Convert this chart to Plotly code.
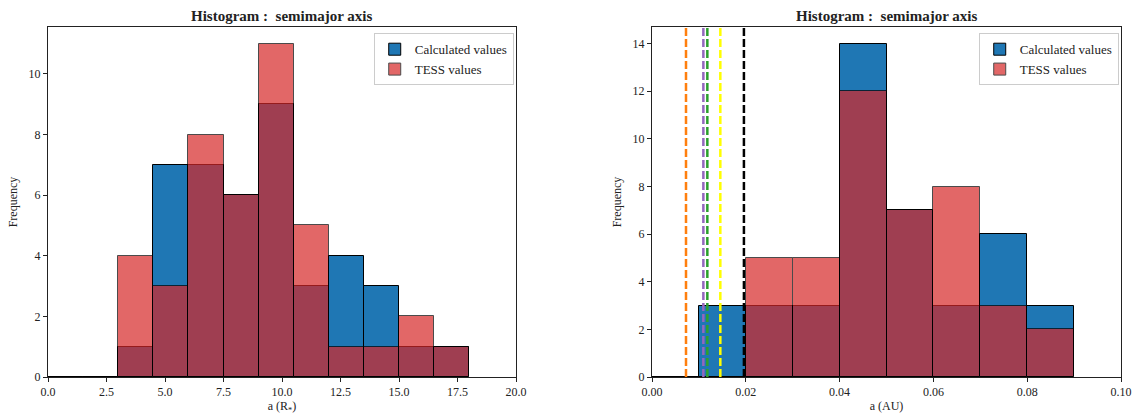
import plotly.graph_objects as go

# ---------------- data ----------------
left_edges = [0.0, 1.5, 3.0, 4.5, 6.0, 7.5, 9.0, 10.5, 12.0, 13.5, 15.0, 16.5, 18.0]
left_calc = [0, 0, 1, 7, 7, 6, 9, 3, 4, 3, 1, 1]
left_tess = [0, 0, 4, 3, 8, 6, 11, 5, 1, 1, 2, 1]

right_edges = [0.00, 0.01, 0.02, 0.03, 0.04, 0.05, 0.06, 0.07, 0.08, 0.09]
right_calc = [0, 3, 3, 3, 14, 7, 3, 6, 3]
right_tess = [0, 0, 5, 5, 12, 7, 8, 3, 2]

vline_x = [0.00725, 0.01095, 0.0118, 0.01457, 0.0196]
vline_colors = ["#ff7f0e", "#9467bd", "#2ca02c", "#ffff00", "#000000"]

left_xticks = [0.0, 2.5, 5.0, 7.5, 10.0, 12.5, 15.0, 17.5, 20.0]
right_xticks = [0.00, 0.02, 0.04, 0.06, 0.08, 0.10]

FONT = "Liberation Serif"
BLUE = "#1f77b4"
RED = "#d62728"


def centers(edges):
    return [(edges[i] + edges[i + 1]) / 2 for i in range(len(edges) - 1)]


def widths(edges):
    return [edges[i + 1] - edges[i] for i in range(len(edges) - 1)]


fig = go.Figure()

for (edges, calc, tess, xa, ya, leg) in [
    (left_edges, left_calc, left_tess, "x", "y", "legend"),
    (right_edges, right_calc, right_tess, "x2", "y2", "legend2"),
]:
    fig.add_trace(go.Bar(
        x=centers(edges), y=calc, width=widths(edges),
        marker=dict(color=BLUE, line=dict(color="black", width=1)),
        name="Calculated values", xaxis=xa, yaxis=ya, legend=leg,
    ))
    fig.add_trace(go.Bar(
        x=centers(edges), y=tess, width=widths(edges),
        marker=dict(color=RED, line=dict(color="black", width=1)),
        opacity=0.7,
        name="TESS values", xaxis=xa, yaxis=ya, legend=leg,
    ))

for xv, c in zip(vline_x, vline_colors):
    fig.add_shape(type="line", xref="x2", yref="y2 domain", x0=xv, x1=xv, y0=0, y1=1,
                  line=dict(color=c, width=2.5, dash="8px,3px"), layer="above")

L0, L1 = 48 / 1134, 516 / 1134
R0, R1 = 652 / 1134, 1121 / 1134
B, T = 1 - 377 / 416, 1 - 27 / 416

axis_common = dict(
    showgrid=False, zeroline=False, showline=True, linecolor="#222", linewidth=1,
    mirror=True, ticks="outside", ticklen=4, tickcolor="#222", automargin=False,
    tickfont=dict(family=FONT, size=12, color="#222"),
)

fig.update_layout(
    width=1134, height=416,
    margin=dict(l=0, r=0, t=0, b=0, autoexpand=False),
    paper_bgcolor="white", plot_bgcolor="white",
    barmode="overlay", bargap=0,
    font=dict(family=FONT, color="#222"),
    xaxis=dict(domain=[L0, L1], range=[0, 20], tickvals=left_xticks, tickformat=".1f",
               title=dict(text="a (R<sub>*</sub>)", font=dict(family=FONT, size=12), standoff=3),
               anchor="y", **axis_common),
    yaxis=dict(domain=[B, T], range=[0, 11.55], tickvals=[0, 2, 4, 6, 8, 10],
               title=dict(text="Frequency", font=dict(family=FONT, size=12), standoff=8),
               anchor="x", **axis_common),
    xaxis2=dict(domain=[R0, R1], range=[0, 0.10], tickvals=right_xticks, tickformat=".2f",
                title=dict(text="a (AU)", font=dict(family=FONT, size=12), standoff=3),
                anchor="y2", **axis_common),
    yaxis2=dict(domain=[B, T], range=[0, 14.7], tickvals=[0, 2, 4, 6, 8, 10, 12, 14],
                title=dict(text="Frequency", font=dict(family=FONT, size=12), standoff=8),
                anchor="x2", **axis_common),
    legend=dict(x=L1 - 0.002, y=T - 0.015, xanchor="right", yanchor="top",
                bgcolor="rgba(255,255,255,0.8)", bordercolor="#cccccc", borderwidth=1,
                font=dict(family=FONT, size=13, color="#222"), tracegroupgap=0),
    legend2=dict(x=R1 - 0.002, y=T - 0.015, xanchor="right", yanchor="top",
                 bgcolor="rgba(255,255,255,0.8)", bordercolor="#cccccc", borderwidth=1,
                 font=dict(family=FONT, size=13, color="#222"), tracegroupgap=0),
    annotations=[
        dict(text="<b>Histogram :  semimajor axis</b>", x=(L0 + L1) / 2, y=T, xref="paper", yref="paper",
             xanchor="center", yanchor="bottom", yshift=1, showarrow=False,
             font=dict(family=FONT, size=15, color="#222")),
        dict(text="<b>Histogram :  semimajor axis</b>", x=(R0 + R1) / 2, y=T, xref="paper", yref="paper",
             xanchor="center", yanchor="bottom", yshift=1, showarrow=False,
             font=dict(family=FONT, size=15, color="#222")),
    ],
)

fig.write_html("out.html")
